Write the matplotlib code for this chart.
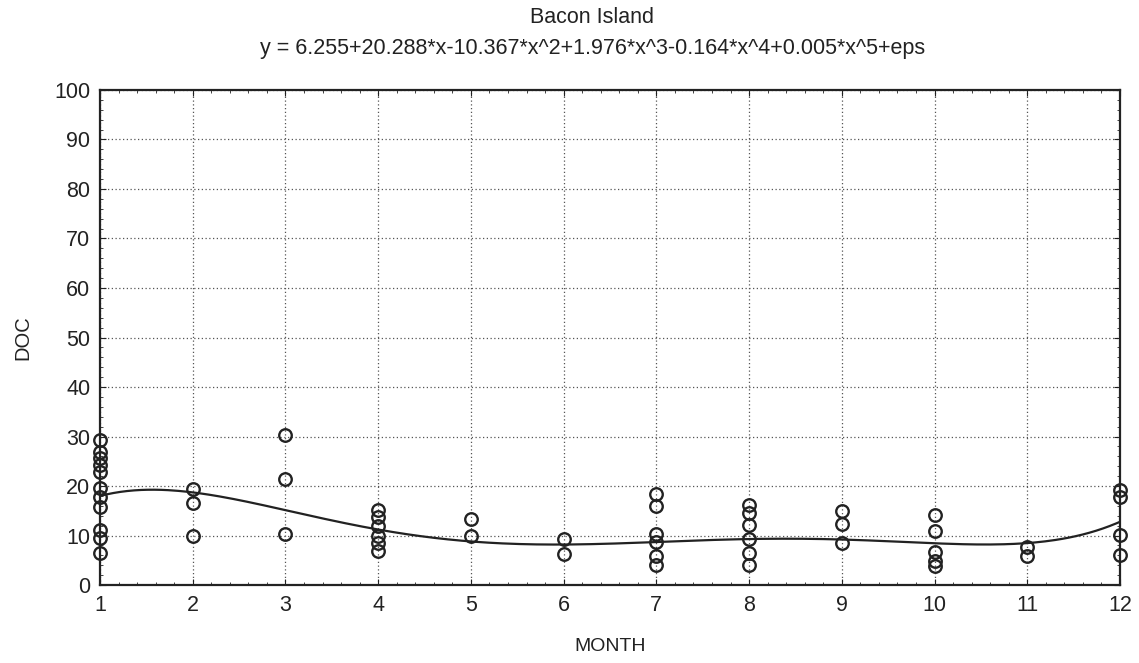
import numpy as np
import matplotlib
matplotlib.use('Agg')
import matplotlib.pyplot as plt
from matplotlib.ticker import MultipleLocator

plt.rcParams['font.family'] = ['Liberation Sans', 'DejaVu Sans']

# DOC samples, grouped by month
month = [1] * 11 + [2] * 3 + [3] * 3 + [4] * 6 + [5] * 2 + [6] * 2 \
    + [7] * 6 + [8] * 6 + [9] * 3 + [10] * 5 + [11] * 2 + [12] * 4
doc = [29.3, 26.9, 25.6, 24.2, 22.9, 19.5, 17.8, 15.8, 11.1, 9.4, 6.4,   # 1
       19.3, 16.6, 10.0,                                              # 2
       30.3, 21.4, 10.3,                                              # 3
       15.2, 13.8, 11.9, 10.0, 8.5, 6.9,                              # 4
       13.4, 9.9,                                                     # 5
       9.2, 6.2,                                                      # 6
       18.4, 16.0, 10.3, 8.6, 5.9, 4.1,                               # 7
       16.2, 14.5, 12.1, 9.2, 6.4, 4.0,                               # 8
       15.0, 12.4, 8.5,                                               # 9
       14.1, 11.0, 6.6, 4.8, 3.8,                                     # 10
       7.6, 5.9,                                                      # 11
       19.2, 17.8, 10.1, 6.1]                                         # 12

# polynomial from the title; the last two terms are rounded in the label,
# so take values inside the rounding range that follow the drawn curve
coef = [6.255, 20.288, -10.367, 1.976, -0.1635, 0.00495]
title_eq = 'y = 6.255+20.288*x-10.367*x^2+1.976*x^3-0.164*x^4+0.005*x^5+eps'

xx = np.linspace(1, 12, 300)
yy = np.polynomial.polynomial.polyval(xx, coef)

fig = plt.figure(figsize=(11.39, 6.63), dpi=100)
ax = fig.add_axes([0.0878, 0.1176, 0.8955, 0.7467])

ax.plot(xx, yy, color='#222222', lw=1.6, zorder=3)
ax.plot(month, doc, 'o', mfc='none', mec='#222222', ms=9, mew=1.7,
        clip_on=False, zorder=4)

ax.set_xlim(1, 12)
ax.set_ylim(0, 100)
ax.xaxis.set_major_locator(MultipleLocator(1))
ax.yaxis.set_major_locator(MultipleLocator(10))
ax.xaxis.set_minor_locator(MultipleLocator(0.2))
ax.yaxis.set_minor_locator(MultipleLocator(2))
ax.tick_params(which='both', direction='in', top=True, right=True,
               labelsize=15.5, colors='#222222')
ax.tick_params(which='major', length=4, pad=7)
ax.tick_params(which='minor', length=2)
ax.grid(True, which='major', linestyle=(0, (1, 2)), color='#555555', lw=0.9)
for s in ax.spines.values():
    s.set_color('#222222')
    s.set_linewidth(1.6)

ax.set_xlabel('MONTH', fontsize=14, labelpad=16, color='#222222')
ax.set_ylabel('DOC', fontsize=14.5, labelpad=16, color='#222222')
fig.text(0.520, 0.973, 'Bacon Island', ha='center', va='center',
         fontsize=15.5, color='#222222')
fig.text(0.520, 0.927, title_eq, ha='center', va='center',
         fontsize=15.5, color='#222222')

fig.savefig('out.png', dpi=100)
